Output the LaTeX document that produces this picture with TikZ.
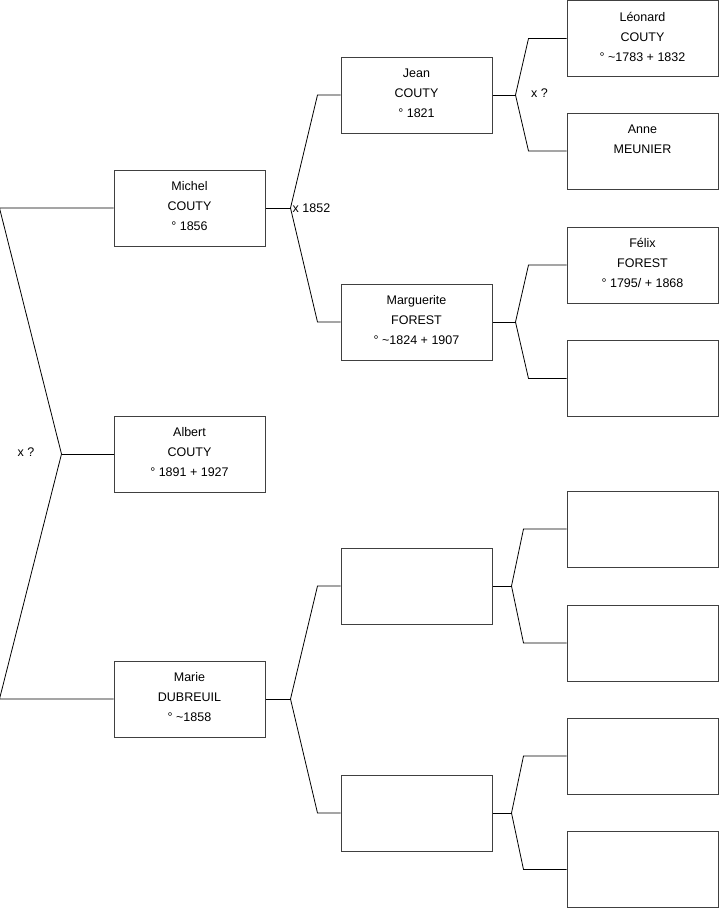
\documentclass[tikz,border=0pt]{standalone}
\usepackage{fontspec}
\setmainfont{Liberation Sans}
\usetikzlibrary{calc,positioning}
\tikzset{
    personbox/.style={draw=black!75,line width=1pt,minimum width=151pt,minimum height=76pt,
        inner sep=0pt,align=center,text depth=4pt,font=\fontsize{12.5}{20}\selectfont},
    branch/.style={line width=0.8pt,draw=black},
    unionlabel/.style={inner sep=0pt,font=\fontsize{12.5}{15}\selectfont}
}

\begin{document}
\begin{tikzpicture}[x=1pt,y=-1pt]
  \useasboundingbox (0,0) rectangle (719,908);

  % enfant
  \node[personbox] (albert) at (189.5,454) {Albert\\COUTY\\° 1891 + 1927};

  % parents
  \node[personbox] (michel) at (189.5,208) {Michel\\COUTY\\° 1856};
  \node[personbox] (marie)  at (189.5,699) {Marie\\DUBREUIL\\° \textasciitilde1858};

  % grands-parents
  \node[personbox] (jean)       at (416.5,95)  {Jean\\COUTY\\° 1821};
  \node[personbox] (marguerite) at (416.5,322) {Marguerite\\FOREST\\° \textasciitilde1824 + 1907};
  \node[personbox] (pmarie)     at (416.5,586) {};
  \node[personbox] (mmarie)     at (416.5,813) {};

  % arrière-grands-parents
  \node[personbox] (leonard) at (642.5,38.5)  {Léonard\\COUTY\\° \textasciitilde1783 + 1832};
  \node[personbox] (anne)    at (642.5,151)   {Anne\\MEUNIER\\\strut};
  \node[personbox] (felix)   at (642.5,265)   {Félix\\FOREST\\° 1795/ + 1868};
  \node[personbox] (mmarg)   at (642.5,378.5) {};
  \node[personbox] (ppm)     at (642.5,529)   {};
  \node[personbox] (mpm)     at (642.5,643)   {};
  \node[personbox] (pmm)     at (642.5,756)   {};
  \node[personbox] (mmm)     at (642.5,869.5) {};

  % fourche de l'enfant (vers la gauche)
  \coordinate (albert-fork) at ([xshift=-52]albert.west);
  \coordinate (albert-up)   at ([xshift=-114]michel.west);
  \coordinate (albert-down) at ([xshift=-114]marie.west);
  \draw[branch] (albert.west) -- (albert-fork);
  \draw[branch] (michel.west) -- (albert-up) -- (albert-fork) -- (albert-down) -- (marie.west);

  % fourches des couples (vers la droite)
  \foreach \c/\f/\m/\dx/\dy in {michel/jean/marguerite/25/23, marie/pmarie/mmarie/25/23,
      jean/leonard/anne/23/38, marguerite/felix/mmarg/23/38,
      pmarie/ppm/mpm/19/43, mmarie/pmm/mmm/19/43}{
    \coordinate (\c-fork) at ([xshift=\dx]\c.east);
    \coordinate (\c-up)   at ([xshift=-\dy]\f.west);
    \coordinate (\c-down) at ([xshift=-\dy]\m.west);
    \draw[branch] (\c.east) -- (\c-fork);
    \draw[branch] (\f.west) -- (\c-up) -- (\c-fork) -- (\c-down) -- (\m.west);
  }

  % mariages
  \node[unionlabel] (x-albert) at (26,452) {x ?};
  \node[unionlabel,anchor=west] (x-michel) at ([xshift=2]michel-fork) {x 1852};
  \node[unionlabel] (x-jean) at (539.5,93) {x ?};
\end{tikzpicture}
\end{document}
